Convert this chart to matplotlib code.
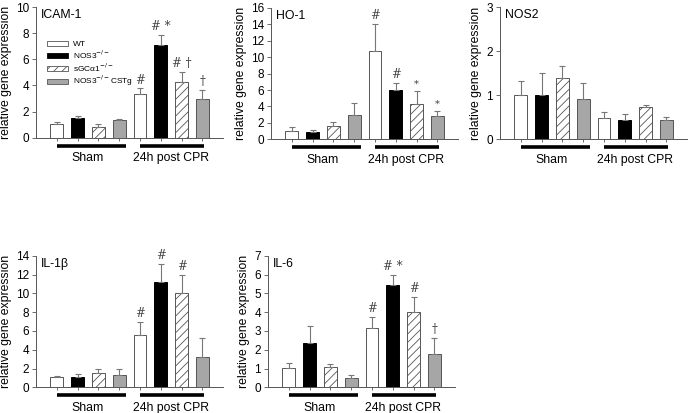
import matplotlib
matplotlib.use("Agg")
import matplotlib.pyplot as plt
from matplotlib.patches import Patch
import matplotlib.transforms as mtransforms

plt.rcParams['font.family'] = ['Liberation Sans', 'DejaVu Sans']
plt.rcParams['hatch.color'] = '#808080'
plt.rcParams['hatch.linewidth'] = 0.6

# bar order: WT, NOS3-/-, sGCa1-/-, NOS3-/-CSTg ; sham then 24h post CPR
genotypes = ["WT", "NOS3$^{-/-}$", "sGC\u03b11$^{-/-}$", "NOS3$^{-/-}$CSTg"]
groups = ["Sham", "24h post CPR"]

icam_mean = [1.02, 1.50, 0.79, 1.35, 3.31, 7.07, 4.25, 2.93]
icam_err = [0.18, 0.20, 0.23, 0.07, 0.46, 0.77, 0.81, 0.71]
icam_marks = ["", "", "", "", "#", "# *", "# \u2020", "\u2020"]

ho1_mean = [0.97, 0.85, 1.58, 3.00, 10.70, 6.00, 4.34, 2.80]
ho1_err = [0.53, 0.25, 0.52, 1.38, 3.30, 0.86, 1.56, 0.70]
ho1_marks = ["", "", "", "", "#", "#", "*", "*"]

nos2_mean = [1.00, 1.00, 1.38, 0.91, 0.47, 0.44, 0.72, 0.43]
nos2_err = [0.32, 0.50, 0.28, 0.36, 0.14, 0.12, 0.05, 0.06]
nos2_marks = ["", "", "", "", "", "", "", ""]

il1b_mean = [1.10, 1.06, 1.49, 1.31, 5.53, 11.17, 10.00, 3.26]
il1b_err = [0.07, 0.32, 0.46, 0.60, 1.37, 1.92, 1.95, 1.94]
il1b_marks = ["", "", "", "", "#", "#", "#", ""]

il6_mean = [1.01, 2.38, 1.06, 0.50, 3.14, 5.44, 4.01, 1.79]
il6_err = [0.27, 0.90, 0.16, 0.14, 0.62, 0.54, 0.78, 0.83]
il6_marks = ["", "", "", "", "#", "# *", "#", "\u2020"]

panels = [
    ("ICAM-1", icam_mean, icam_err, icam_marks, 10, 2, [0.0521, 0.6666, 0.2709, 0.3160]),
    ("HO-1", ho1_mean, ho1_err, ho1_marks, 16, 2, [0.3922, 0.6627, 0.2709, 0.3180]),
    ("NOS2", nos2_mean, nos2_err, nos2_marks, 3, 1, [0.7236, 0.6634, 0.2709, 0.3190]),
    ("IL-1\u03b2", il1b_mean, il1b_err, il1b_marks, 14, 2, [0.0521, 0.0622, 0.2709, 0.3186]),
    ("IL-6", il6_mean, il6_err, il6_marks, 7, 1, [0.3878, 0.0622, 0.2709, 0.3186]),
]

faces = ["white", "black", "white", "#a6a6a6"]
hatches = [None, None, "////", None]
edge = "#555555"
positions = [1, 2, 3, 4, 5, 6, 7, 8]

fig = plt.figure(figsize=(6.91, 4.13), dpi=100)

for name, mean, err, marks, ymax, step, rect in panels:
    ax = fig.add_axes(rect)
    for i, (x, m, e) in enumerate(zip(positions, mean, err)):
        k = i % 4
        ax.bar(x, m, width=0.62, color=faces[k], edgecolor=edge if k != 1 else "black",
               hatch=hatches[k], linewidth=0.7, zorder=2)
        ax.errorbar(x, m, yerr=[[0], [e]], fmt="none", ecolor="#777777",
                    elinewidth=0.8, capsize=2.5, capthick=0.8, zorder=3)
        if marks[i]:
            small = marks[i] == "*"
            ax.text(x, m + e + ymax * 0.015, marks[i], ha="center", va="bottom",
                    fontsize=7 if small else 8.5, color="#444444",
                    family=["DejaVu Serif"])
    ax.set_xlim(0, 9)
    ax.set_ylim(0, ymax)
    ax.set_yticks(range(0, ymax + 1, step))
    ax.set_xticks(positions)
    ax.set_xticklabels([])
    ax.tick_params(axis="x", length=2.5, width=0.6, color="#555555")
    ax.tick_params(axis="y", length=3, width=0.6, color="#555555", labelsize=8.5, pad=2)
    for s in ["top", "right"]:
        ax.spines[s].set_visible(False)
    for s in ["left", "bottom"]:
        ax.spines[s].set_color("#555555")
        ax.spines[s].set_linewidth(0.7)
    ax.set_ylabel("relative gene expression", fontsize=8.8, labelpad=3)
    ax.text(0.025, 0.985, name, transform=ax.transAxes, ha="left", va="top", fontsize=8.8)

    # group bars and labels below the axis
    trans = mtransforms.blended_transform_factory(ax.transData, ax.transAxes)
    for g, (x0, x1) in enumerate([(1.0, 4.35), (5.0, 8.1)]):
        ax.plot([x0, x1], [-0.062, -0.062], color="black", lw=2.6,
                transform=trans, clip_on=False, solid_capstyle="butt")
        ax.text((positions[4 * g] + positions[4 * g + 3]) / 2, -0.11, groups[g],
                transform=trans, ha="center", va="top", fontsize=8.8)

    if name == "ICAM-1":
        handles = [Patch(facecolor=faces[k], edgecolor=edge if k != 1 else "black",
                         hatch=hatches[k], linewidth=0.6) for k in range(4)]
        ax.legend(handles, genotypes, loc="upper left", bbox_to_anchor=(0.04, 0.77),
                  frameon=False, fontsize=6, handlelength=2.6, handleheight=0.55,
                  labelspacing=0.05, handletextpad=0.5, borderaxespad=0)

fig.savefig("out.png", dpi=100)
